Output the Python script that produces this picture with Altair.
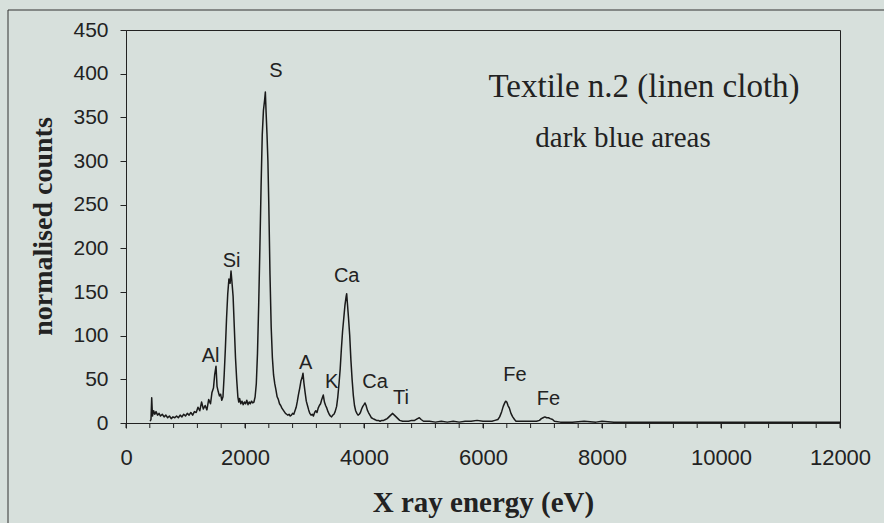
import altair as alt
import pandas as pd

# Spectrum (X ray energy in eV, normalised counts)
energy = [405, 420, 432, 445, 465, 485, 505, 530, 555, 580, 610, 640, 670, 700, 730, 760, 790, 820, 850, 880,
          910, 940, 970, 1000, 1030, 1060, 1090, 1120, 1150, 1180, 1210, 1240, 1270, 1300, 1330, 1360, 1390,
          1420, 1445, 1470, 1490, 1513, 1530, 1550, 1570, 1590, 1610, 1630, 1650, 1670, 1690, 1710, 1730,
          1750, 1765, 1780, 1800, 1820, 1840, 1860, 1880, 1895, 1910, 1930, 1950, 1970, 1990, 2010, 2030,
          2050, 2070, 2090, 2110, 2130, 2150, 2170, 2190, 2210, 2230, 2250, 2270, 2290, 2310, 2330, 2342,
          2355, 2370, 2385, 2400, 2420, 2440, 2460, 2480, 2500, 2520, 2540, 2560, 2580, 2600, 2620, 2640,
          2660, 2680, 2700, 2720, 2740, 2760, 2780, 2800, 2820, 2840, 2860, 2880, 2900, 2920, 2940, 2960,
          2975, 2990, 3010, 3030, 3050, 3070, 3090, 3110, 3130, 3150, 3170, 3190, 3210, 3230, 3250, 3270,
          3290, 3316, 3335, 3355, 3375, 3395, 3415, 3435, 3455, 3475, 3495, 3515, 3540, 3560, 3580, 3600,
          3620, 3640, 3660, 3680, 3700, 3709, 3720, 3740, 3760, 3780, 3800, 3820, 3840, 3860, 3880, 3900,
          3920, 3940, 3960, 3980, 4000, 4017, 4035, 4055, 4075, 4100, 4125, 4150, 4180, 4210, 4240, 4270,
          4300, 4330, 4360, 4390, 4420, 4450, 4482, 4510, 4540, 4570, 4600, 4650, 4700, 4750, 4800, 4850,
          4900, 4930, 4960, 5000, 5100, 5200, 5300, 5400, 5500, 5600, 5700, 5800, 5900, 6000, 6100, 6150,
          6200, 6250, 6280, 6314, 6340, 6365, 6381, 6400, 6420, 6443, 6470, 6499, 6530, 6555, 6600, 6700,
          6800, 6900, 6950, 6980, 7010, 7040, 7070, 7100, 7130, 7170, 7200, 7300, 7500, 7700, 7900, 8000,
          8200, 8500, 8800, 9100, 9400, 9700, 10000, 10400, 10800, 11200, 11600, 12000]
counts = [2, 4, 29, 8, 14, 10, 13, 9, 11, 8, 10, 7, 9, 6, 8, 5, 7, 6, 8, 6,
          9, 7, 10, 8, 11, 9, 12, 9, 13, 12, 18, 14, 24, 16, 20, 15, 27,
          22, 35, 40, 55, 65, 42, 36, 31, 33, 26, 30, 55, 85, 120, 148, 165,
          160, 174, 162, 145, 110, 75, 50, 30, 24, 28, 22, 25, 21, 24, 22, 26,
          21, 24, 22, 25, 23, 24, 30, 45, 80, 135, 200, 270, 330, 358, 370, 379,
          355, 330, 300, 250, 170, 110, 75, 55, 45, 38, 30, 27, 22, 20, 17, 15,
          13, 11, 10, 9, 10, 8, 9, 11, 10, 14, 18, 25, 33, 40, 48, 52,
          57, 46, 35, 25, 20, 15, 11, 9, 10, 8, 12, 14, 12, 17, 20, 22,
          27, 32, 24, 20, 17, 13, 10, 8, 7, 9, 10, 13, 19, 30, 45, 62,
          85, 105, 120, 135, 145, 148, 138, 120, 100, 72, 50, 32, 20, 14, 11, 9,
          10, 12, 16, 19, 21, 23, 20, 15, 12, 9, 6, 5, 4, 3, 3, 2,
          3, 3, 4, 5, 7, 9, 11, 9, 7, 5, 3, 2, 2, 2, 3, 3,
          5, 6, 4, 2, 2, 1, 2, 1, 2, 1, 2, 2, 3, 2, 2, 2,
          3, 4, 7, 13, 19, 23, 25, 24, 20, 17, 11, 7, 4, 2, 2, 2,
          2, 2, 3, 5, 6, 7, 6, 6, 5, 4, 2, 1, 1, 2, 1, 2,
          1, 1, 1, 1, 1, 1, 1, 1, 1, 1, 1, 1]

# Peak labels
peak_labels = ["Al", "Si", "S", "A", "K", "Ca", "Ca", "Ti", "Fe", "Fe"]
peak_x = [1423, 1776, 2521, 3020, 3457, 3709, 4185, 4622, 6538, 7098]
peak_y = [77, 185, 403, 69, 47, 168, 47, 29, 55, 28]

# Annotation texts
note_text = ["Textile n.2 (linen cloth)", "dark blue areas"]
note_x = [8706, 8353]
note_y = [373.6, 316]
note_size = [33, 29]

x_label_ticks = list(range(0, 12001, 2000))
x_minor_ticks = list(range(0, 12001, 400))
y_ticks = list(range(0, 451, 50))

spec = pd.DataFrame({"energy": energy, "counts": counts})
peaks = pd.DataFrame({"label": peak_labels, "x": peak_x, "y": peak_y})
notes = pd.DataFrame({"text": note_text, "x": note_x, "y": note_y, "size": note_size})
minor = pd.DataFrame({"t": x_minor_ticks})

xscale = alt.Scale(domain=[0, 12000], nice=False, zero=False)
yscale = alt.Scale(domain=[0, 450], nice=False)

line = alt.Chart(spec).mark_line(color="#1a1a1a", strokeWidth=1.5, strokeJoin="round").encode(
    x=alt.X("energy:Q", scale=xscale,
            axis=alt.Axis(title="X ray energy (eV)", values=x_label_ticks, format="d",
                          grid=False, tickSize=5, labelPadding=19, labelFontSize=22,
                          labelFont="Liberation Sans", labelColor="#222",
                          domainColor="#222", tickColor="#222",
                          titleFont="Liberation Serif", titleFontWeight="bold", titleFontSize=29,
                          titleColor="#222", titleY=88, titleBaseline="alphabetic",
                          labelFlush=False, labelOverlap=False)),
    y=alt.Y("counts:Q", scale=yscale,
            axis=alt.Axis(title="normalised counts", values=y_ticks, grid=False, tickSize=6,
                          labelPadding=12, labelFontSize=21, labelFont="Liberation Sans",
                          labelColor="#222", domainColor="#222", tickColor="#222",
                          titleFont="Liberation Serif", titleFontWeight="bold", titleFontSize=28,
                          titleColor="#222", titleX=-83, titleY=196, titleAngle=-90,
                          titleAlign="center", titleBaseline="middle",
                          labelFlush=False, labelOverlap=False)),
)

minor_ticks = alt.Chart(minor).mark_rule(color="#222", strokeWidth=1).encode(
    x=alt.X("t:Q", scale=xscale), y=alt.value(393), y2=alt.value(398))

labels = alt.Chart(peaks).mark_text(font="Liberation Sans", fontSize=20, color="#222",
                                    baseline="middle", align="center").encode(
    x=alt.X("x:Q", scale=xscale), y=alt.Y("y:Q", scale=yscale), text="label:N")

note_chart = alt.Chart(notes).mark_text(font="Liberation Serif", color="#222",
                                        baseline="alphabetic", align="center").encode(
    x=alt.X("x:Q", scale=xscale), y=alt.Y("y:Q", scale=yscale), text="text:N",
    size=alt.Size("size:Q", scale=None, legend=None))

frame_left = alt.Chart(pd.DataFrame({"k": [0]})).mark_rule(color="#333", strokeWidth=1).encode(
    x=alt.value(-118), y=alt.value(-20), y2=alt.value(520))
frame_top = alt.Chart(pd.DataFrame({"k": [0]})).mark_rule(color="#333", strokeWidth=1).encode(
    x=alt.value(-118), x2=alt.value(800), y=alt.value(-20))

chart = alt.layer(frame_left, frame_top, minor_ticks, line, labels, note_chart).properties(
    width=714, height=393,
    autosize=alt.AutoSizeParams(type="none"),
    padding={"left": 126, "top": 30, "right": 44, "bottom": 100},
    background="#d7e0dc",
).configure_view(stroke="#222", strokeWidth=1)

chart.save("out.html", embed_options={"renderer": "svg", "actions": False})
